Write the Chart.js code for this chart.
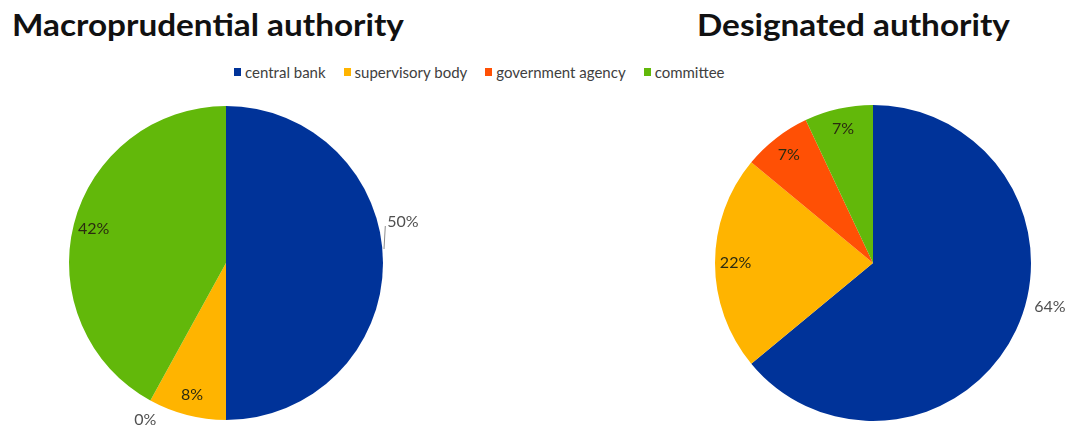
<!DOCTYPE html>
<html>
<head>
<meta charset="utf-8">
<script src="https://cdn.jsdelivr.net/npm/chart.js@4.4.1/dist/chart.umd.min.js"></script>
<style>
  html, body { margin: 0; padding: 0; background: #fff; overflow: hidden; }
  body { width: 1073px; height: 427px; position: relative; font-family: Lato, sans-serif; }
  .title { position: absolute; font-weight: bold; font-size: 30px; line-height: 30px; color: #111; white-space: nowrap; transform: scaleX(1.11); transform-origin: left top; }
  #legend { position: absolute; left: 234px; top: 63px; display: flex; font-size: 15px; color: #404040; white-space: nowrap; }
  #legend .item { display: flex; align-items: center; margin-right: 18px; }
  #legend .box { width: 7px; height: 8px; margin-right: 4px; }
  canvas { position: absolute; }
</style>
</head>
<body>
<div class="title" id="titleLeft" style="left:12px; top:9px;">Macroprudential authority</div>
<div class="title" id="titleRight" style="left:697px; top:9px;">Designated authority</div>
<div id="legend"></div>
<canvas id="leftPie" width="400" height="400" style="left:26px; top:63px;"></canvas>
<canvas id="rightPie" width="400" height="400" style="left:673px; top:63px;"></canvas>
<script>
const categories = ['central bank', 'supervisory body', 'government agency', 'committee'];
const macroShares = [50, 8, 0, 42];
const designatedShares = [64, 22, 7, 7];
const sliceColors = ['#003399', '#ffb400', '#ff5005', '#62b80a'];

// legend built from the same arrays
const legendEl = document.getElementById('legend');
categories.forEach((c, i) => {
    let item = document.createElement('div');
    item.className = 'item';
    let box = document.createElement('span');
    box.className = 'box';
    box.style.background = sliceColors[i];
    let txt = document.createElement('span');
    txt.innerText = c;
    item.appendChild(box);
    item.appendChild(txt);
    legendEl.appendChild(item);
});

// percentage labels, Excel style (inside near rim, a few pushed outside)
const pctLabels = {
    id: 'pctLabels',
    afterDatasetsDraw(chart, args, opts) {
        const ctx = chart.ctx;
        const meta = chart.getDatasetMeta(0);
        const values = chart.data.datasets[0].data;
        ctx.save();
        ctx.font = '16px Lato';
        ctx.textAlign = 'center';
        ctx.textBaseline = 'middle';
        meta.data.forEach((arc, i) => {
            const p = arc.getProps(['x', 'y', 'startAngle', 'endAngle', 'outerRadius'], true);
            const mid = (p.startAngle + p.endAngle) / 2;
            const text = values[i] + '%';
            const nudge = opts.outside[i];
            if (nudge) {
                const ex = p.x + p.outerRadius * Math.cos(mid);
                const ey = p.y + p.outerRadius * Math.sin(mid);
                const lx = ex + nudge[0];
                const ly = ey + nudge[1];
                if (opts.leader && opts.leader.includes(i)) {
                    const w = ctx.measureText(text).width;
                    ctx.strokeStyle = '#8c8c8c';
                    ctx.lineWidth = 1;
                    ctx.beginPath();
                    ctx.moveTo(lx - w / 2 - 2, ly + 4);
                    ctx.lineTo(ex + 1, ey - 14);
                    ctx.stroke();
                }
                ctx.fillStyle = '#505050';
                ctx.fillText(text, lx, ly);
            } else {
                const r = p.outerRadius * 0.87;
                ctx.fillStyle = '#2b2b10';
                ctx.fillText(text, p.x + r * Math.cos(mid), p.y + r * Math.sin(mid));
            }
        });
        ctx.restore();
    }
};

function makePie(id, values, outside, leader, pad) {
    return new Chart(document.getElementById(id).getContext('2d'), {
        type: 'pie',
        data: {
            labels: categories,
            datasets: [{
                data: values,
                backgroundColor: sliceColors,
                borderWidth: 0
            }]
        },
        options: {
            responsive: false,
            animation: false,
            layout: { padding: pad },
            plugins: {
                legend: { display: false },
                tooltip: { enabled: false },
                pctLabels: { outside: outside, leader: leader }
            }
        },
        plugins: [pctLabels]
    });
}

makePie('leftPie', macroShares, { 0: [20, -41], 2: [-5, 19] }, [0], 43);
makePie('rightPie', designatedShares, { 0: [34, -23] }, [], 42);
</script>
</body>
</html>
